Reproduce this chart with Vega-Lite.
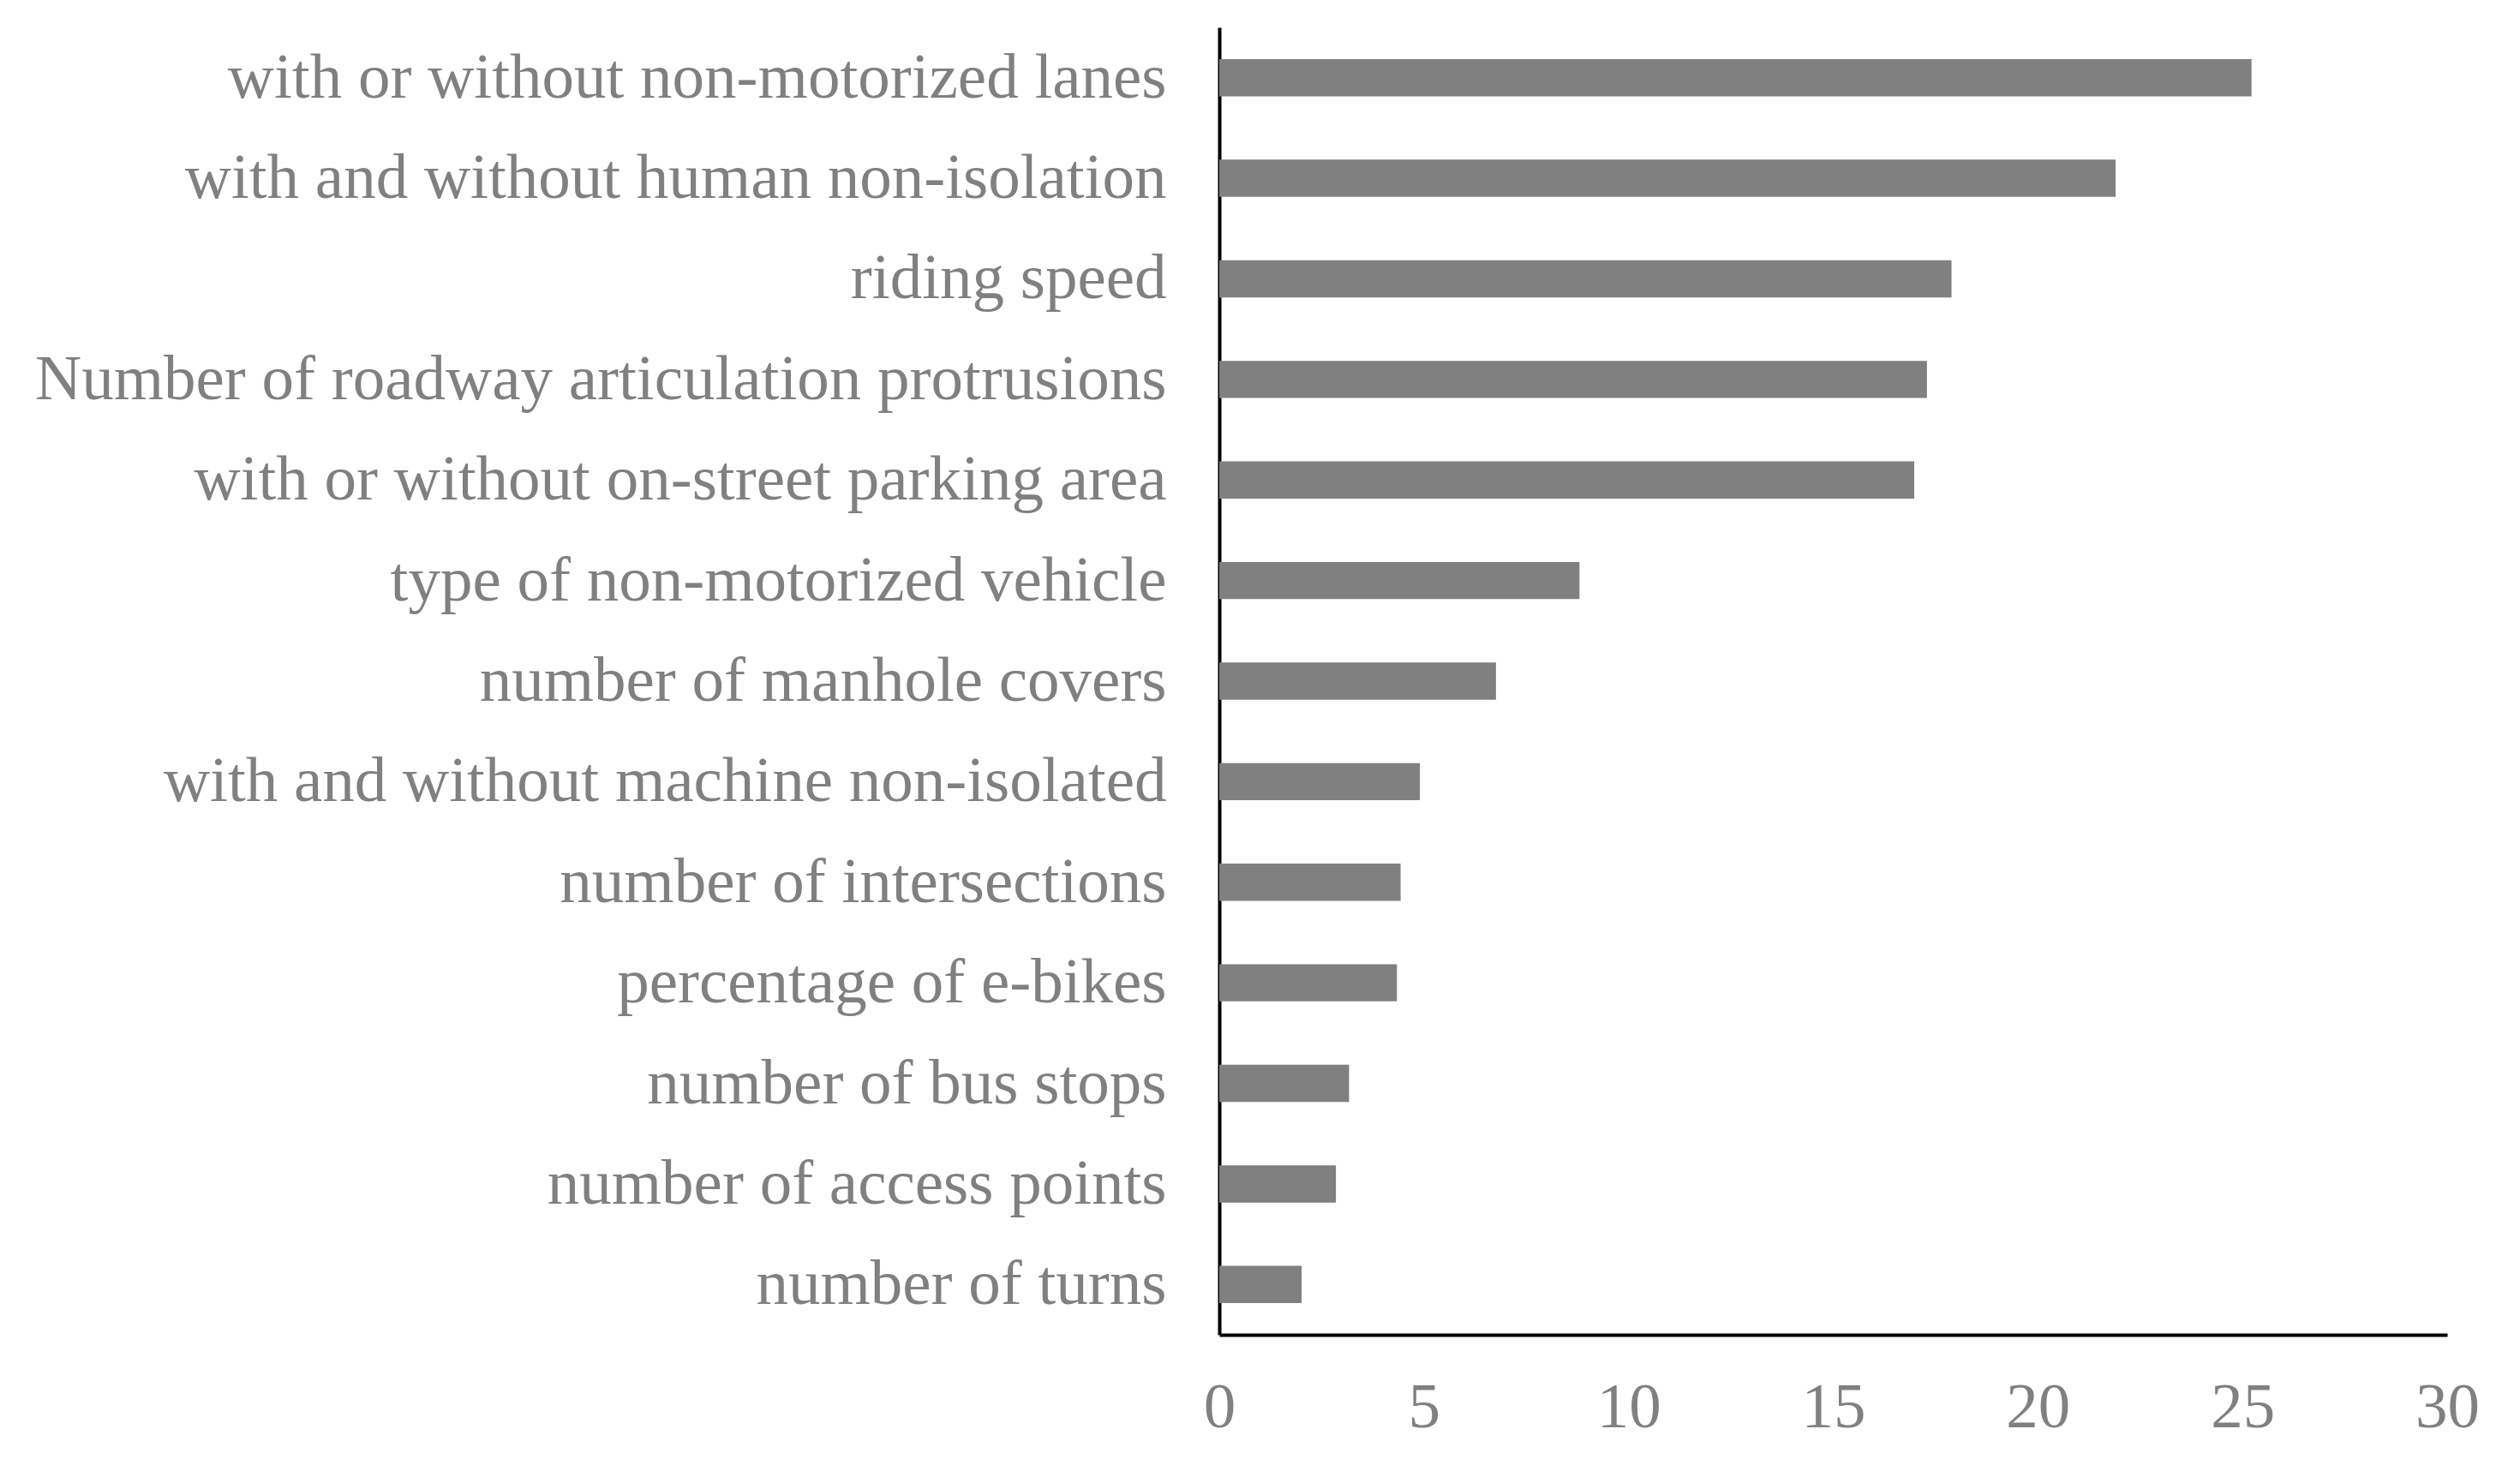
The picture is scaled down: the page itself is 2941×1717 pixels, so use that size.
{
  "$schema": "https://vega.github.io/schema/vega-lite/v6.json",
  "autosize": {"type": "none"},
  "padding": {"left": 1423, "top": 32, "right": 85, "bottom": 159},
  "width": 1433,
  "height": 1526,
  "background": "white",
  "data": {
    "values": [
      {"factor": "with or without non-motorized lanes", "value": 25.22},
      {"factor": "with and without human non-isolation", "value": 21.9},
      {"factor": "riding speed", "value": 17.89},
      {"factor": "Number of roadway articulation protrusions", "value": 17.29},
      {"factor": "with or without on-street parking area", "value": 16.98},
      {"factor": "type of non-motorized vehicle", "value": 8.8},
      {"factor": "number of manhole covers", "value": 6.76},
      {"factor": "with and without machine non-isolated", "value": 4.9},
      {"factor": "number of intersections", "value": 4.43},
      {"factor": "percentage of e-bikes", "value": 4.34},
      {"factor": "number of bus stops", "value": 3.17},
      {"factor": "number of access points", "value": 2.85},
      {"factor": "number of turns", "value": 2.01}
    ]
  },
  "mark": {"type": "bar", "color": "#808080"},
  "encoding": {
    "y": {
      "field": "factor",
      "type": "nominal",
      "sort": null,
      "scale": {"paddingInner": 0.63, "paddingOuter": 0.315},
      "axis": {
        "title": null,
        "ticks": false,
        "grid": false,
        "domainColor": "#000000",
        "domainWidth": 4,
        "labelFont": "Liberation Serif",
        "labelFontSize": 75,
        "labelColor": "#808080",
        "labelPadding": 62,
        "labelLimit": 2000
      }
    },
    "x": {
      "field": "value",
      "type": "quantitative",
      "scale": {"domain": [0, 30], "nice": false},
      "axis": {
        "title": null,
        "values": [0, 5, 10, 15, 20, 25, 30],
        "ticks": false,
        "grid": false,
        "domainColor": "#000000",
        "domainWidth": 4,
        "labelFont": "Liberation Serif",
        "labelFontSize": 75,
        "labelColor": "#808080",
        "labelPadding": 48,
        "labelFlush": false,
        "labelOverlap": false
      }
    }
  },
  "config": {"view": {"stroke": null}}
}
